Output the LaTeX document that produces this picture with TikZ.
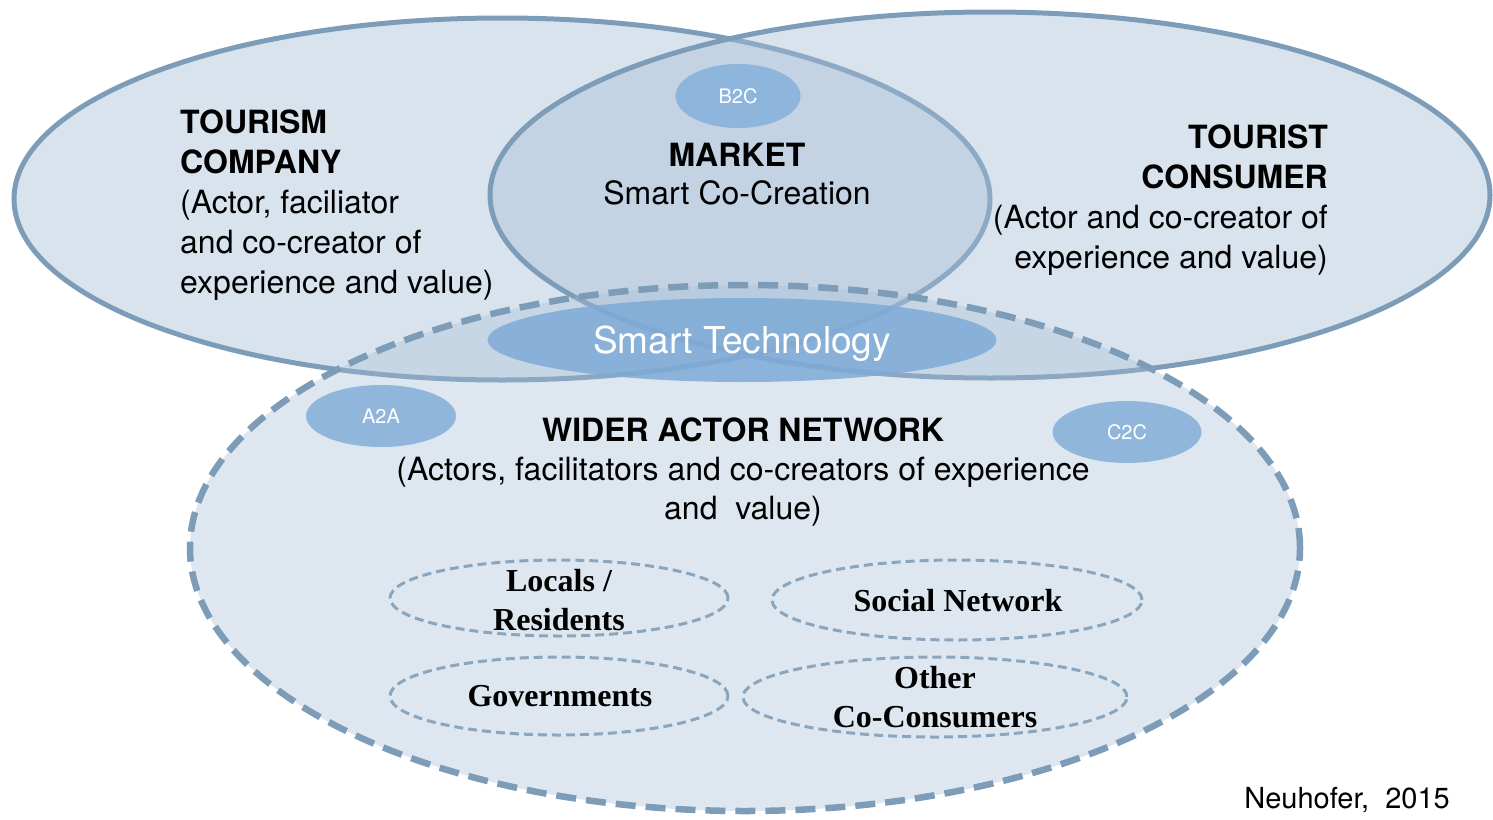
\documentclass[tikz,border=0pt]{standalone}
\usepackage{fontspec}
\setmainfont{TeX Gyre Heros}
\newfontfamily\serifbold{Liberation Serif}
\usepackage{tikz}
\usetikzlibrary{shapes.geometric}
\definecolor{ringfill}{HTML}{A4BDD6}
\definecolor{ringline}{HTML}{7D9CB8}
\definecolor{techfill}{HTML}{7EAAD6}
\definecolor{tagfill}{HTML}{8CB4DC}
\tikzstyle{ring}    = [draw=ringline, line width=5pt, fill=ringfill, fill opacity=0.42]
\tikzstyle{network} = [draw=ringline, line width=6.5pt, dash pattern=on 20pt off 10pt, fill=ringfill, fill opacity=0.36]
\tikzstyle{group}   = [draw=ringline!90, line width=3pt, dash pattern=on 9pt off 5pt]
\tikzstyle{tag}     = [ellipse, fill=tagfill, fill opacity=0.95, text opacity=1, text=white, inner sep=0pt]
\tikzstyle{txt}     = [inner sep=0pt, font=\fontsize{32}{40}\selectfont]
\tikzstyle{grouptxt}= [inner sep=0pt, align=center, font=\fontsize{32}{39}\selectfont\serifbold\bfseries]

\begin{document}
\begin{tikzpicture}[x=1pt, y=-1pt]
          \useasboundingbox (0,0) rectangle (1493,819);
          % company, consumer, actor network
          \draw[ring](502,199) ellipse [x radius=488pt, y radius=181pt];
          \draw[ring](990,195) ellipse [x radius=500pt, y radius=183pt];
          \draw[network](745,548) ellipse [x radius=555pt, y radius=263pt];
          % smart technology and the links
          \node[tag, fill=techfill, fill opacity=0.85, minimum width=509pt, minimum height=84pt, text depth=0pt,
                font=\fontsize{37}{40}\selectfont](tech)at(742, 340){Smart Technology};
          \node[tag, minimum width=125pt, minimum height=64pt, font=\fontsize{20}{24}\selectfont](b2c)at(738, 96){B2C};
          \node[tag, minimum width=150pt, minimum height=62pt, font=\fontsize{20}{24}\selectfont](a2a)at(381, 416){A2A};
          \node[tag, minimum width=149pt, minimum height=62pt, font=\fontsize{20}{24}\selectfont](c2c)at(1127, 432){C2C};
          % actors of the wider network
          \draw[group](559, 598) ellipse [x radius=169pt, y radius=38pt];
          \draw[group](957, 600) ellipse [x radius=185pt, y radius=40pt];
          \draw[group](559, 696) ellipse [x radius=169pt, y radius=39pt];
          \draw[group](935, 697) ellipse [x radius=192pt, y radius=40pt];
          \node[grouptxt](locals)at(559, 600){Locals /\\Residents};
          \node[grouptxt](social)at(958, 601){Social Network};
          \node[grouptxt](gov)at(560, 696){Governments};
          \node[grouptxt](other)at(935, 697){Other\\Co-Consumers};
          % labels
          \node[txt, anchor=north west, align=left](company)at(180, 110)
               {\textbf{TOURISM}\\\textbf{COMPANY}\\(Actor, faciliator\\and co-creator of\\experience and value)};
          \node[txt, anchor=north east, align=right](consumer)at(1328, 125)
               {\textbf{TOURIST}\\\textbf{CONSUMER}\\(Actor and co-creator of\\experience and value)};
          \node[txt, anchor=north, align=center, font=\fontsize{32}{38}\selectfont](market)at(737, 143)
               {\textbf{MARKET}\\Smart Co-Creation};
          \node[txt, anchor=north, align=center, font=\fontsize{32}{39}\selectfont](wider)at(743, 418)
               {\textbf{WIDER ACTOR NETWORK}\\(Actors, facilitators and co-creators of experience\\and~~value)};
          \node[txt, anchor=base east, font=\fontsize{29}{32}\selectfont](source)at(1450, 808){Neuhofer,~~2015};
      \end{tikzpicture}
\end{document}
